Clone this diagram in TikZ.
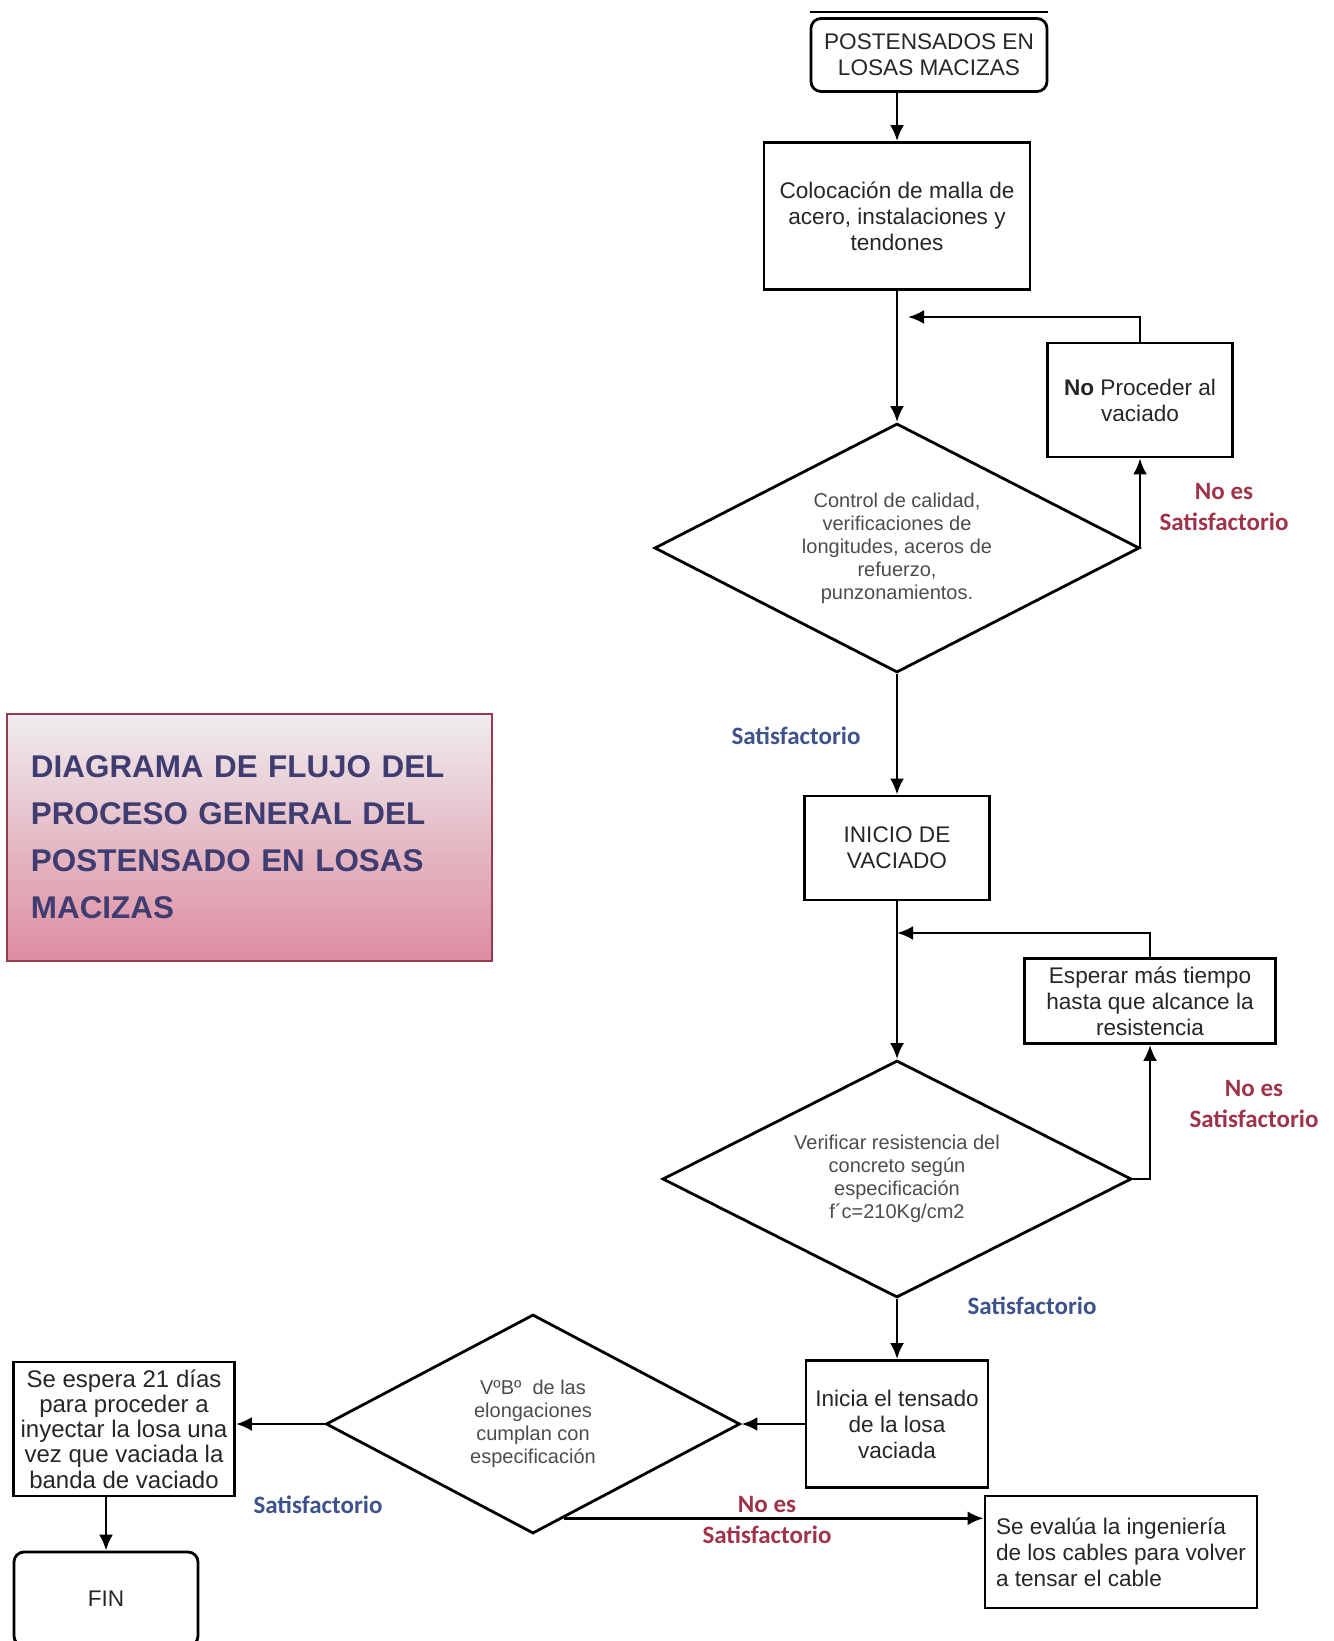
\documentclass[tikz,border=0pt]{standalone}
\usepackage{fontspec}
\setmainfont{Liberation Sans}
\newfontfamily\carlito{Carlito}
\usetikzlibrary{shapes.geometric,calc,arrows.meta}

\definecolor{azulsat}{RGB}{62,82,140}
\definecolor{rojonosat}{RGB}{158,52,74}
\definecolor{azultit}{RGB}{62,60,112}
\definecolor{titA}{RGB}{238,236,238}
\definecolor{titM}{RGB}{232,196,204}
\definecolor{titB}{RGB}{221,140,160}
\definecolor{bordetit}{RGB}{150,60,80}

\begin{document}
\begin{tikzpicture}[
        x=0.5pt, y=-0.5pt,
        >={Latex[length=8pt,width=7pt]},
        caja/.style={rectangle, draw, line width=1.4pt, align=center, inner sep=2pt, font=\fontsize{11.3}{13}\selectfont, text=black!85},
        redonda/.style={caja, rounded corners=5pt},
        decision/.style={diamond, aspect=2, draw, line width=1.4pt, align=center, inner sep=0pt, font=\fontsize{10}{11.5}\selectfont, text=black!70},
        flecha/.style={->, line width=1.4pt},
        sat/.style={font=\carlito\bfseries\fontsize{12.5}{15.5}\selectfont, text=azulsat, align=center},
        nosat/.style={sat, text=rojonosat}
        ]
      \useasboundingbox (0,0) rectangle (1333,1641);
      % cajas
      \node[redonda, minimum width=118pt, minimum height=36.5pt] (pos) at (929,55) {POSTENSADOS EN\\LOSAS MACIZAS};
      \node[caja, minimum width=133pt, minimum height=73.5pt] (malla) at (897,216) {Colocación de malla de\\acero, instalaciones y\\tendones};
      \node[decision, minimum width=242.5pt, minimum height=124.5pt] (control) at (897,548) {Control de calidad,\\verificaciones de\\longitudes, aceros de\\refuerzo,\\punzonamientos.};
      \node[caja, minimum width=92.5pt, minimum height=57pt] (noproc) at (1140,400) {\textbf{No} Proceder al\\vaciado};
      \node[caja, minimum width=92.5pt, minimum height=52pt] (vaciado) at (897,848) {INICIO DE\\VACIADO};
      \node[decision, minimum width=234.5pt, minimum height=118.5pt] (resist) at (897,1179) {Verificar resistencia del\\concreto según\\especificación\\f´c=210Kg/cm2};
      \node[caja, minimum width=125.5pt, minimum height=42.5pt] (esperar) at (1150,1001) {Esperar más tiempo\\hasta que alcance la\\resistencia};
      \node[caja, minimum width=91pt, minimum height=63.5pt] (tensado) at (897,1424) {Inicia el tensado\\de la losa\\vaciada};
      \node[decision, minimum width=207pt, minimum height=109.5pt] (elong) at (533,1424) {VºBº\ \ de las\\elongaciones\\cumplan con\\especificación};
      \node[caja, minimum width=110.5pt, minimum height=67pt, font=\fontsize{12}{12.6}\selectfont] (espera21) at (124,1429) {Se espera 21 días\\para proceder a\\inyectar la losa una\\vez que vaciada la\\banda de vaciado};
      \node[caja, minimum width=136pt, minimum height=56pt, align=left] (evalua) at (1121,1552) {Se evalúa la ingeniería\\de los cables para volver\\a tensar el cable};
      \node[redonda, minimum width=92pt, minimum height=47pt] (fin) at (106,1599) {FIN};
      \node[draw=bordetit, line width=0.8pt, top color=titA, middle color=titM, bottom color=titB, minimum width=242.5pt, minimum height=123.5pt, text width=218.5pt, inner xsep=12pt, align=left, font=\bfseries\fontsize{15.7}{23.5}\selectfont, text=azultit] (titulo) at (249.5,837.5) {DIAGRAMA DE FLUJO DEL\\PROCESO GENERAL DEL\\POSTENSADO EN LOSAS\\MACIZAS};
      % etiquetas
      \node[sat] (sat1) at (796,736) {Satisfactorio};
      \node[nosat] (nosat1) at (1224,507) {No es\\Satisfactorio};
      \node[nosat] (nosat2) at (1254,1104) {No es\\Satisfactorio};
      \node[sat] (sat2) at (1032,1306) {Satisfactorio};
      \node[sat] (sat3) at (318,1505) {Satisfactorio};
      \node[nosat] (nosat3) at (767,1520) {No es\\Satisfactorio};
      % conectores
      \coordinate (ret1) at (908,317);
      \coordinate (ret2) at (897,933);
      \coordinate (p3) at ($(elong.south)!0.15!(elong.east)$);
      \draw[line width=1.4pt] ([yshift=2.5pt]pos.north west) -- ([yshift=2.5pt]pos.north east);
      \draw[flecha] (pos.south -| malla.north) -- (malla.north);
      \draw[flecha] (malla.south) -- (control.north);
      \draw[flecha] (control.east) -| (noproc.south);
      \draw[flecha] (noproc.north) |- (ret1);
      \draw[flecha] (control.south) -- (vaciado.north);
      \draw[flecha] (vaciado.south) -- (resist.north);
      \draw[flecha] (resist.east) -| (esperar.south);
      \draw[flecha] (esperar.north) |- (ret2);
      \draw[flecha] (resist.south) -- (tensado.north);
      \draw[flecha] (tensado.west) -- (elong.east);
      \draw[flecha] (elong.west) -- (elong.west -| espera21.east);
      \draw[flecha] (p3) -- (p3 -| evalua.west);
      \draw[flecha] (espera21.south -| fin.north) -- (fin.north);
    \end{tikzpicture}
\end{document}
